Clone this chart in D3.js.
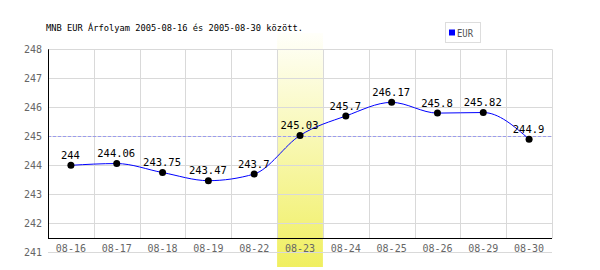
<!DOCTYPE html>
<html>
<head>
<meta charset="utf-8">
<script src="https://cdn.jsdelivr.net/npm/d3@7"></script>
<style>
  body { margin: 0; background: #fff; }
  svg { display: block; }
</style>
</head>
<body>
<svg id="chart" width="600" height="270"></svg>
<script>
// data
var dates = ["08-16", "08-17", "08-18", "08-19", "08-22", "08-23", "08-24", "08-25", "08-26", "08-29", "08-30"];
var rates = [244, 244.06, 243.75, 243.47, 243.7, 245.03, 245.7, 246.17, 245.8, 245.82, 244.9];
var yTicks = [241, 242, 243, 244, 245, 246, 247, 248];
var refValue = 245;
var highlightDate = "08-23";
var seriesName = "EUR";
var title = "MNB EUR Árfolyam 2005-08-16 és 2005-08-30 között.";

var plotLeft = 48, plotRight = 552, plotTop = 49.3, plotBottom = 252.3, axisY = 238.3;

var svg = d3.select("#chart");

var x = d3.scaleBand().domain(dates).range([plotLeft, plotRight]);
var y = d3.scaleLinear().domain([241, 248]).range([plotBottom, plotTop]);

var defs = svg.append("defs");
var grad = defs.append("linearGradient")
    .attr("id", "hl").attr("x1", 0).attr("y1", 0).attr("x2", 0).attr("y2", 1);
grad.append("stop").attr("offset", "0%").attr("stop-color", "#fffffa");
grad.append("stop").attr("offset", "100%").attr("stop-color", "#f0ef60");

// highlighted day
svg.append("rect")
    .attr("x", x(highlightDate))
    .attr("y", 33)
    .attr("width", x.bandwidth())
    .attr("height", 267 - 33)
    .attr("fill", "url(#hl)");

// horizontal grid
svg.selectAll(".hgrid")
    .data(yTicks.filter(function(d) { return d > 241; }))
    .enter().append("line")
    .attr("x1", plotLeft).attr("x2", plotRight)
    .attr("y1", function(d) { return Math.round(y(d)) + 0.5; })
    .attr("y2", function(d) { return Math.round(y(d)) + 0.5; })
    .attr("stroke", "#d9d9d9");

// vertical grid
svg.selectAll(".vgrid")
    .data(dates.slice(1).concat(["end"]))
    .enter().append("line")
    .attr("x1", function(d, i) { return Math.round(plotLeft + (i + 1) * x.bandwidth()) + 0.5; })
    .attr("x2", function(d, i) { return Math.round(plotLeft + (i + 1) * x.bandwidth()) + 0.5; })
    .attr("y1", plotTop).attr("y2", axisY)
    .attr("stroke", "#d9d9d9");

// bottom gray line (241)
svg.append("line")
    .attr("x1", plotLeft).attr("x2", plotRight)
    .attr("y1", Math.round(y(241)) + 0.5).attr("y2", Math.round(y(241)) + 0.5)
    .attr("stroke", "#d9d9d9");

// reference line
svg.append("line")
    .attr("x1", plotLeft).attr("x2", plotRight)
    .attr("y1", Math.round(y(refValue)) + 0.5).attr("y2", Math.round(y(refValue)) + 0.5)
    .attr("stroke", "#9a9aee")
    .attr("stroke-dasharray", "3,2");

// axes lines
svg.append("line")
    .attr("x1", plotLeft + 0.5).attr("x2", plotLeft + 0.5)
    .attr("y1", plotTop).attr("y2", axisY + 0.5)
    .attr("stroke", "#000");
svg.append("line")
    .attr("x1", plotLeft).attr("x2", plotRight)
    .attr("y1", Math.round(axisY) + 0.5).attr("y2", Math.round(axisY) + 0.5)
    .attr("stroke", "#000");

// y tick labels
svg.selectAll(".ylab")
    .data(yTicks)
    .enter().append("text")
    .attr("x", 42)
    .attr("y", function(d) { return y(d) + 4; })
    .attr("text-anchor", "end")
    .attr("font-family", "DejaVu Sans Mono")
    .attr("font-size", 10)
    .attr("fill", "#666")
    .text(function(d) { return d; });

// x tick labels
svg.selectAll(".xlab")
    .data(dates)
    .enter().append("text")
    .attr("x", function(d) { return x(d) + x.bandwidth() / 2; })
    .attr("y", 251.5)
    .attr("text-anchor", "middle")
    .attr("font-family", "DejaVu Sans Mono")
    .attr("font-size", 10)
    .attr("fill", "#666")
    .text(function(d) { return d; });

// series line
var line = d3.line()
    .x(function(d, i) { return x(dates[i]) + x.bandwidth() / 2; })
    .y(function(d) { return y(d); })
    .curve(d3.curveMonotoneX);

svg.append("path")
    .datum(rates)
    .attr("d", line)
    .attr("fill", "none")
    .attr("stroke", "#0000ff")
    .attr("stroke-width", 1);

svg.selectAll(".dot")
    .data(rates)
    .enter().append("circle")
    .attr("cx", function(d, i) { return x(dates[i]) + x.bandwidth() / 2; })
    .attr("cy", function(d) { return y(d); })
    .attr("r", 3.5)
    .attr("fill", "#000");

svg.selectAll(".val")
    .data(rates)
    .enter().append("text")
    .attr("x", function(d, i) { return x(dates[i]) + x.bandwidth() / 2 - 0.5; })
    .attr("y", function(d) { return y(d) - 6.5; })
    .attr("text-anchor", "middle")
    .attr("font-family", "DejaVu Sans Mono")
    .attr("font-size", 10.5)
    .attr("fill", "#000")
    .text(function(d) { return d; });

// title
svg.append("text")
    .attr("x", 46)
    .attr("y", 31)
    .attr("font-family", "DejaVu Sans Mono")
    .attr("font-size", 9.5)
    .attr("textLength", 257)
    .attr("lengthAdjust", "spacingAndGlyphs")
    .attr("fill", "#000")
    .text(title);

// legend
svg.append("rect")
    .attr("x", 445.5).attr("y", 22.5)
    .attr("width", 35).attr("height", 20)
    .attr("fill", "#fff")
    .attr("stroke", "#ddd");
svg.append("rect")
    .attr("x", 449).attr("y", 29.5)
    .attr("width", 6).attr("height", 6)
    .attr("fill", "#0000ff");
svg.append("text")
    .attr("x", 457)
    .attr("y", 36.5)
    .attr("font-family", "DejaVu Sans Mono")
    .attr("font-size", 10.5)
    .attr("textLength", 16)
    .attr("lengthAdjust", "spacingAndGlyphs")
    .attr("fill", "#555")
    .text(seriesName);
</script>
</body>
</html>
